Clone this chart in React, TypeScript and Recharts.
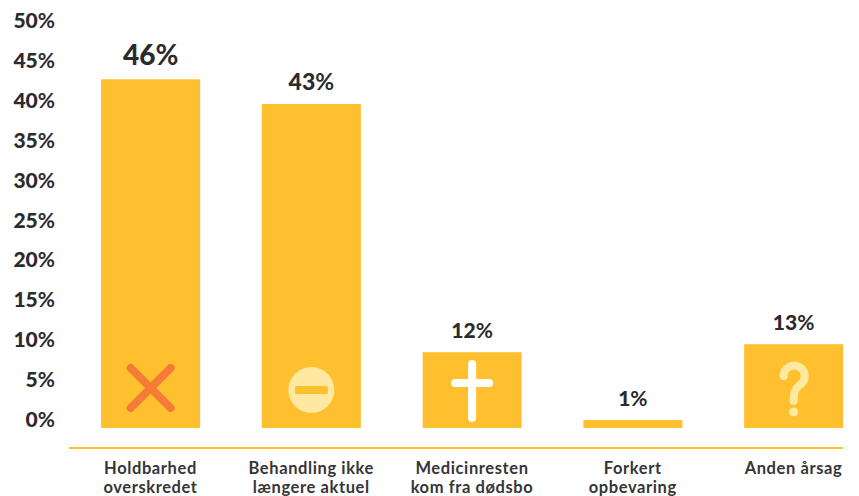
import React from "react";
import { BarChart, Bar, XAxis, YAxis, LabelList } from "recharts";

const categories = ["Holdbarhed overskredet", "Behandling ikke længere aktuel", "Medicinresten kom fra dødsbo", "Forkert opbevaring", "Anden årsag"];
const firstLines = ["Holdbarhed", "Behandling ikke", "Medicinresten", "Forkert", "Anden årsag"];
const secondLines = ["overskredet", "længere aktuel", "kom fra dødsbo", "opbevaring", ""];
const barHeights = [43.7, 40.6, 9.5, 1, 10.5];
const printedValues = [46, 43, 12, 1, 13];
const yTicks = [0, 5, 10, 15, 20, 25, 30, 35, 40, 45, 50];

const data = categories.map((name, i) => ({ name, height: barHeights[i], printed: printedValues[i] }));

const YELLOW = "#FEC02F";
const PALE = "#FFE9A0";
const ORANGE = "#F47B35";
const INK = "#2B2A2D";
const FONT = "Lato, 'Open Sans', sans-serif";

function YTick(props: any) {
  const { x, y, payload } = props;
  return (
    <text x={x} y={y - 1} textAnchor="end" fontFamily={FONT} fontSize={21} fontWeight={900} fill={INK}>
      <tspan>{payload.value}</tspan>
      <tspan fontWeight={700}>%</tspan>
    </text>
  );
}

function XTick(props: any) {
  const { x, y, index } = props;
  return (
    <text textAnchor="middle" fontFamily={FONT} fontSize={16.5} fontWeight={700} letterSpacing={0.6} fill="#363538">
      <tspan x={x} y={y + 18}>{firstLines[index]}</tspan>
      <tspan x={x} y={y + 36.5}>{secondLines[index]}</tspan>
    </text>
  );
}

function BarWithIcon(props: any) {
  const { x, y, width, height, index } = props;
  const cx = x + width / 2;
  const base = y + height;
  let icon: React.ReactNode = null;
  if (index === 0) {
    const c = base - 40;
    icon = (
      <g stroke={ORANGE} strokeWidth={8} strokeLinecap="round">
        <line x1={cx - 20} y1={c - 20} x2={cx + 20} y2={c + 20} />
        <line x1={cx + 20} y1={c - 20} x2={cx - 20} y2={c + 20} />
      </g>
    );
  } else if (index === 1) {
    const c = base - 38;
    icon = (
      <g>
        <circle cx={cx} cy={c} r={23} fill={PALE} />
        <rect x={cx - 16.5} y={c - 4} width={33} height={8} rx={1.5} fill={YELLOW} />
      </g>
    );
  } else if (index === 2) {
    icon = (
      <g stroke="#FFFFFF" strokeWidth={8} strokeLinecap="round">
        <line x1={cx} y1={base - 64} x2={cx} y2={base - 10} />
        <line x1={cx - 17} y1={base - 45} x2={cx + 17} y2={base - 45} />
      </g>
    );
  } else if (index === 4) {
    icon = (
      <g>
        <path
          d={`M ${cx - 10} ${base - 52} A 10.5 10.5 0 1 1 ${cx + 6} ${base - 43} C ${cx + 1} ${base - 39} ${cx} ${base - 35} ${cx} ${base - 27}`}
          fill="none"
          stroke={PALE}
          strokeWidth={8}
          strokeLinecap="round"
        />
        <circle cx={cx} cy={base - 16} r={4.5} fill={PALE} />
      </g>
    );
  }
  return (
    <g>
      <rect x={x} y={y} width={width} height={height} fill={YELLOW} />
      {icon}
    </g>
  );
}

function ValueLabel(props: any) {
  const { x, y, width, index } = props;
  const size = index === 0 ? 28 : index === 1 ? 23 : 21;
  return (
    <text x={x + width / 2} y={y - 14} textAnchor="middle" fontFamily={FONT} fontSize={size} fontWeight={900} fill={INK}>
      <tspan>{printedValues[index]}</tspan>
      <tspan fontWeight={700}>%</tspan>
    </text>
  );
}

export default function App() {
  return (
    <div style={{ position: "absolute", left: 0, top: 0, width: 859, height: 496, background: "#fff" }}>
      <BarChart width={859} height={496} data={data} margin={{ top: 29, right: 16, bottom: 0, left: 0 }} barSize={99}>
        <XAxis
          dataKey="name"
          scale="point"
          padding={{ left: 81.5, right: 49.5 }}
          height={48}
          interval={0}
          tick={<XTick />}
          tickLine={false}
          axisLine={{ stroke: YELLOW, strokeWidth: 2 }}
        />
        <YAxis
          type="number"
          domain={[0, 50]}
          ticks={yTicks}
          width={69}
          padding={{ bottom: 20, top: 0 }}
          interval={0}
          tick={<YTick />}
          tickMargin={8}
          tickLine={false}
          axisLine={false}
        />
        <Bar dataKey="height" isAnimationActive={false} shape={<BarWithIcon />}>
          <LabelList dataKey="printed" content={<ValueLabel />} />
        </Bar>
      </BarChart>
    </div>
  );
}
